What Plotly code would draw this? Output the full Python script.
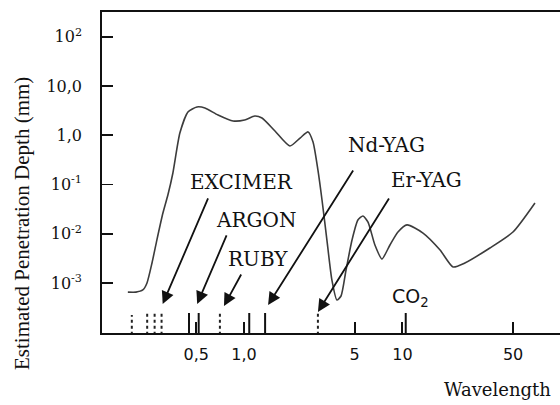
import math
import plotly.graph_objects as go

# ---------------- data ----------------
wavelength_um = [0.185, 0.208, 0.230, 0.244, 0.263, 0.282, 0.308, 0.331, 0.356, 0.394,
                 0.443, 0.505, 0.567, 0.686, 0.853, 1.01, 1.17, 1.30, 1.57, 1.95,
                 2.26, 2.54, 2.73, 2.93, 3.11, 3.34, 3.59, 3.86, 4.10, 4.41,
                 4.81, 5.24, 5.64, 6.07, 6.71, 7.43, 8.35, 9.38, 10.7, 13.5,
                 17.3, 20.9, 24.8, 35.7, 49.9, 68.7]
depth_mm = [6.6e-4, 6.6e-4, 7.3e-4, 1.0e-3, 2.6e-3, 7.5e-3, 0.0265, 0.0615, 0.172, 1.11,
            2.97, 3.75, 3.58, 2.58, 1.95, 2.04, 2.46, 2.24, 1.22, 0.607,
            0.88, 1.17, 0.731, 0.198, 0.0487, 7.5e-3, 1.16e-3, 4.56e-4, 5.5e-4, 1.85e-3,
            7.5e-3, 0.0191, 0.0231, 0.0174, 5.96e-3, 3.10e-3, 5.96e-3, 0.0109, 0.0152, 0.0104,
            4.71e-3, 2.13e-3, 2.57e-3, 5.18e-3, 0.0109, 0.0424]

# laser emission lines drawn at the foot of the chart
dotted_lines_um = [0.196, 0.245, 0.273, 0.302, 0.705, 2.93]
dotted_lines_top = [2.26e-4, 2.49e-4, 2.49e-4, 2.49e-4, 2.49e-4, 2.49e-4]
solid_lines_um = [0.450, 0.518, 1.08, 1.36, 10.5]
solid_lines_top = [2.49e-4, 2.49e-4, 2.49e-4, 2.49e-4, 2.49e-4]
line_base = 9.0e-5

# laser labels and where their arrows point
laser_names = ["EXCIMER", "ARGON", "RUBY", "Nd-YAG", "Er-YAG"]
arrow_tip_um = [0.307, 0.507, 0.748, 1.42, 2.93]
arrow_tip_mm = [3.79e-4, 3.79e-4, 3.45e-4, 3.61e-4, 2.61e-4]

x_tick_vals = [0.5, 1, 5, 10, 50]
x_tick_text = ["0,5", "1,0", "5", "10", "50"]
y_tick_vals = [100, 10, 1, 0.1, 0.01, 0.001]
y_tick_text = ["10<sup>2</sup>", "10,0", "1,0", "10<sup>-1</sup>", "10<sup>-2</sup>", "10<sup>-3</sup>"]

# ---------------- layout helpers (pixel positions -> paper) ----------------
L, R, T, B = 102, 560, 12, 333


def paper(xp, yp):
    return (xp - L) / (R - L), (B - yp) / (B - T)


fig = go.Figure()

fig.add_trace(go.Scatter(
    x=wavelength_um, y=depth_mm, mode="lines",
    line=dict(color="#3c3c3c", width=1.6, shape="spline", smoothing=0.6),
    hoverinfo="skip", showlegend=False))


def segs(xs, tops):
    xx, yy = [], []
    for xv, tv in zip(xs, tops):
        xx += [xv, xv, None]
        yy += [line_base, tv, None]
    return xx, yy


dx, dy = segs(dotted_lines_um, dotted_lines_top)
fig.add_trace(go.Scatter(x=dx, y=dy, mode="lines",
                         line=dict(color="#222222", width=2, dash="dot"),
                         hoverinfo="skip", showlegend=False))
sx, sy = segs(solid_lines_um, solid_lines_top)
fig.add_trace(go.Scatter(x=sx, y=sy, mode="lines",
                         line=dict(color="#111111", width=2),
                         hoverinfo="skip", showlegend=False))

# arrow tails (pixel offsets from tip) and label centres (pixels)
arrow_offsets = [(46, -107), (30, -70), (18, -33), (86, -136), (72, -115)]
label_centres = [(241, 182), (256, 220), (258, 259), (386, 145), (426, 180)]

for name, tx, ty, (ax, ay), (lx, ly) in zip(laser_names, arrow_tip_um, arrow_tip_mm,
                                            arrow_offsets, label_centres):
    fig.add_annotation(x=math.log10(tx), y=math.log10(ty), xref="x", yref="y",
                       ax=ax, ay=ay, text="", showarrow=True,
                       arrowhead=2, arrowsize=1.4, arrowwidth=1.8, arrowcolor="#111111",
                       standoff=0, startstandoff=0)
    px_, py_ = paper(lx, ly)
    fig.add_annotation(x=px_, y=py_, xref="paper", yref="paper", text=name,
                       showarrow=False, xanchor="center", yanchor="middle",
                       font=dict(family="DejaVu Serif", size=20, color="#111111"))

cx, cy = paper(410, 297)
fig.add_annotation(x=cx, y=cy, xref="paper", yref="paper", text="CO<sub>2</sub>",
                   showarrow=False, xanchor="center", yanchor="middle",
                   font=dict(family="DejaVu Sans", size=19, color="#111111"))

wx, wy = paper(442, 389)
fig.add_annotation(x=wx, y=wy, xref="paper", yref="paper", text="Wavelength",
                   showarrow=False, xanchor="left", yanchor="middle",
                   font=dict(family="DejaVu Serif", size=18, color="#111111"))

tx_, ty_ = paper(22, 224)
fig.add_annotation(x=tx_, y=ty_, xref="paper", yref="paper",
                   text="Estimated Penetration Depth (mm)", textangle=-90,
                   showarrow=False, xanchor="center", yanchor="middle",
                   font=dict(family="Liberation Serif", size=21, color="#111111"))

fig.update_xaxes(type="log", range=[-0.896, 1.995],
                 showline=True, linecolor="#111111", linewidth=1.8, mirror=True,
                 ticks="inside", ticklen=11, tickwidth=1.8, tickcolor="#111111",
                 tickvals=x_tick_vals, ticktext=x_tick_text, ticklabelstandoff=6,
                 tickfont=dict(family="DejaVu Sans", size=16, color="#111111"),
                 showgrid=False, zeroline=False)
fig.update_yaxes(type="log", range=[-4.01, 2.50],
                 showline=True, linecolor="#111111", linewidth=1.8, mirror=False,
                 ticks="inside", ticklen=11, tickwidth=1.8, tickcolor="#111111",
                 tickvals=y_tick_vals, ticktext=y_tick_text, ticklabelstandoff=15,
                 tickfont=dict(family="DejaVu Serif", size=16, color="#111111"),
                 showgrid=False, zeroline=False)

fig.update_layout(width=560, height=405,
                  margin=dict(l=L, r=0, t=T, b=405 - B, pad=0),
                  paper_bgcolor="white", plot_bgcolor="white",
                  showlegend=False)

fig.write_html("out.html", config={"displayModeBar": False, "staticPlot": True},
               post_script="document.body.style.margin='0';document.body.style.overflow='hidden';")
